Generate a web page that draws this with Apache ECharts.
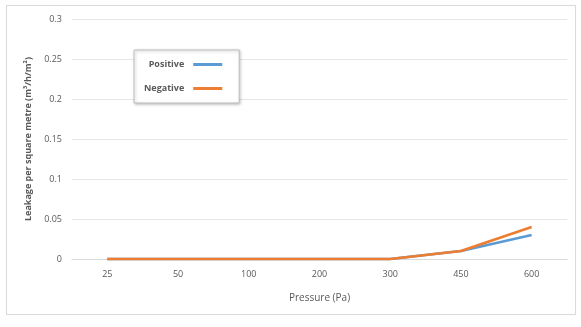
<!DOCTYPE html>
<html><head><meta charset="utf-8">
<script src="https://cdn.jsdelivr.net/npm/echarts@6/dist/echarts.min.js"></script>
<style>
html,body{margin:0;padding:0;background:#fff;}
#frame{position:absolute;left:6px;top:5px;width:570px;height:310px;border:1px solid #d9d9d9;box-sizing:border-box;}
#c{position:absolute;left:0;top:0;width:581px;height:327px;}
</style></head>
<body>
<div id="frame"></div>
<div id="c"></div>
<script>
var categories = ['25','50','100','200','300','450','600'];
var positive = [0, 0, 0, 0, 0, 0.01, 0.03];
var negative = [0, 0, 0, 0, 0, 0.01, 0.04];
var yTicks = [0, 0.05, 0.1, 0.15, 0.2, 0.25, 0.3];

var chart = echarts.init(document.getElementById('c'));
var txt = '#595959';
chart.setOption({
  animation: false,
  textStyle: {fontFamily: 'Open Sans, sans-serif'},
  grid: {left: 72, right: 14, top: 19, bottom: 68},
  legend: {
    orient: 'vertical', left: 134, top: 50, align: 'right',
    itemWidth: 29, itemHeight: 3, itemGap: 15,
    padding: [10, 17, 10, 10],
    backgroundColor: '#fff',
    borderColor: '#bfbfbf', borderWidth: 1,
    shadowColor: 'rgba(0,0,0,0.25)', shadowBlur: 3, shadowOffsetX: 1, shadowOffsetY: 1,
    textStyle: {color: txt, fontSize: 9, fontWeight: 'bold', padding: [0, 4, 0, 0]},
    data: [{name: 'Positive', icon: 'rect'}, {name: 'Negative', icon: 'rect'}]
  },
  xAxis: {
    type: 'category', data: categories, boundaryGap: true,
    name: 'Pressure (Pa)', nameLocation: 'middle', nameGap: 34,
    nameTextStyle: {color: txt, fontSize: 10},
    axisLine: {show: true, lineStyle: {color: '#d9d9d9'}},
    axisTick: {show: false},
    axisLabel: {color: txt, fontSize: 9, margin: 11}
  },
  yAxis: {
    type: 'value', min: 0, max: 0.3, interval: 0.05,
    name: 'Leakage per square metre (m\u00b3/h/m\u00b2)', nameLocation: 'middle', nameGap: 38,
    nameTextStyle: {color: txt, fontSize: 9, fontWeight: 'bold'},
    axisLine: {show: false}, axisTick: {show: false},
    splitLine: {lineStyle: {color: '#e6e6e6'}},
    axisLabel: {color: txt, fontSize: 9, margin: 10,
      formatter: function(v){ return String(+v.toFixed(2)); }}
  },
  series: [
    {name: 'Positive', type: 'line', data: positive, symbol: 'none',
     lineStyle: {width: 2.75, color: '#5B9BD5'}, itemStyle: {color: '#5B9BD5'}},
    {name: 'Negative', type: 'line', data: negative, symbol: 'none',
     lineStyle: {width: 2.75, color: '#ED7D31'}, itemStyle: {color: '#ED7D31'}}
  ]
});
</script>
</body></html>
